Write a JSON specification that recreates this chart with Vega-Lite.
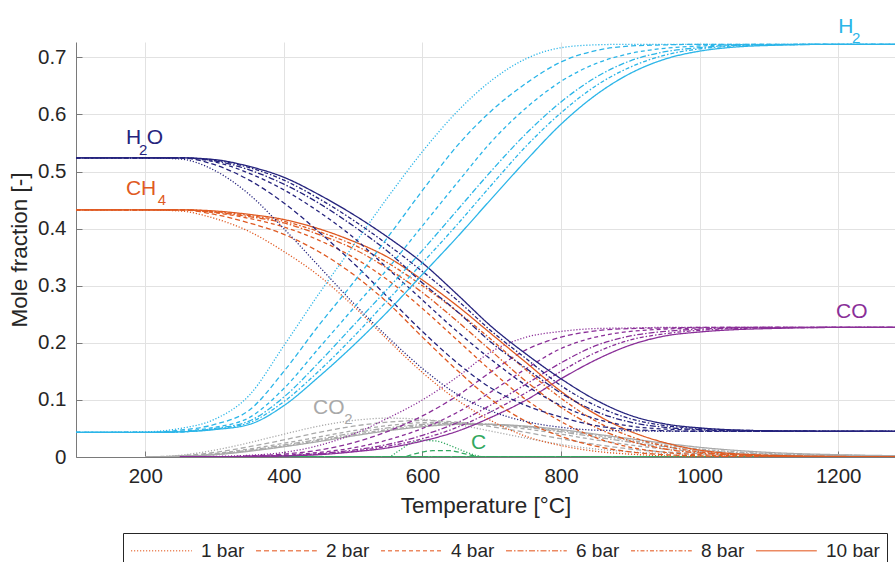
{
  "$schema": "https://vega.github.io/schema/vega-lite/v6.json",
  "width": 819,
  "height": 415,
  "autosize": {"type": "none"},
  "padding": {"left": 76, "top": 42, "right": 0, "bottom": 105},
  "background": "white",
  "config": {
    "view": {"stroke": null},
    "font": "Liberation Sans",
    "axis": {
      "grid": true,
      "gridColor": "#e2e2e2",
      "domainColor": "#7a7a7a",
      "tickColor": "#7a7a7a",
      "tickSize": -6,
      "labelFontSize": 20.5,
      "labelColor": "#262626",
      "labelFont": "Liberation Sans",
      "titleFont": "Liberation Sans",
      "titleFontSize": 22.5,
      "titleFontWeight": "normal",
      "titleColor": "#262626"
    }
  },
  "datasets": {
    "curves": [
      {"gas":"C","bar":1,"T":300,"frac":0},{"gas":"C","bar":1,"T":550,"frac":0},{"gas":"C","bar":1,"T":565,"frac":0.01},{"gas":"C","bar":1,"T":580,"frac":0.022},{"gas":"C","bar":1,"T":600,"frac":0.029},{"gas":"C","bar":1,"T":620,"frac":0.028},{"gas":"C","bar":1,"T":640,"frac":0.02},{"gas":"C","bar":1,"T":660,"frac":0.01},{"gas":"C","bar":1,"T":680,"frac":0.002},{"gas":"C","bar":1,"T":690,"frac":0},{"gas":"C","bar":1,"T":1300,"frac":0},
      {"gas":"C","bar":2,"T":300,"frac":0},{"gas":"C","bar":2,"T":570,"frac":0},{"gas":"C","bar":2,"T":590,"frac":0.006},{"gas":"C","bar":2,"T":615,"frac":0.011},{"gas":"C","bar":2,"T":640,"frac":0.011},{"gas":"C","bar":2,"T":660,"frac":0.006},{"gas":"C","bar":2,"T":680,"frac":0.001},{"gas":"C","bar":2,"T":690,"frac":0},{"gas":"C","bar":2,"T":1300,"frac":0},
      {"gas":"C","bar":4,"T":300,"frac":0},{"gas":"C","bar":4,"T":1300,"frac":0},
      {"gas":"C","bar":6,"T":300,"frac":0},{"gas":"C","bar":6,"T":1300,"frac":0},
      {"gas":"C","bar":8,"T":300,"frac":0},{"gas":"C","bar":8,"T":1300,"frac":0},
      {"gas":"C","bar":10,"T":300,"frac":0},{"gas":"C","bar":10,"T":1300,"frac":0},

      {"gas":"CO2","bar":1,"T":200,"frac":0},{"gas":"CO2","bar":1,"T":250,"frac":0.003},{"gas":"CO2","bar":1,"T":300,"frac":0.012},{"gas":"CO2","bar":1,"T":350,"frac":0.025},{"gas":"CO2","bar":1,"T":400,"frac":0.04},{"gas":"CO2","bar":1,"T":450,"frac":0.054},{"gas":"CO2","bar":1,"T":500,"frac":0.064},{"gas":"CO2","bar":1,"T":550,"frac":0.068},{"gas":"CO2","bar":1,"T":600,"frac":0.066},{"gas":"CO2","bar":1,"T":650,"frac":0.057},{"gas":"CO2","bar":1,"T":700,"frac":0.045},{"gas":"CO2","bar":1,"T":750,"frac":0.033},{"gas":"CO2","bar":1,"T":800,"frac":0.022},{"gas":"CO2","bar":1,"T":850,"frac":0.014},{"gas":"CO2","bar":1,"T":900,"frac":0.009},{"gas":"CO2","bar":1,"T":950,"frac":0.006},{"gas":"CO2","bar":1,"T":1000,"frac":0.004},{"gas":"CO2","bar":1,"T":1100,"frac":0.002},{"gas":"CO2","bar":1,"T":1200,"frac":0.001},{"gas":"CO2","bar":1,"T":1300,"frac":0.001},
      {"gas":"CO2","bar":2,"T":200,"frac":0},{"gas":"CO2","bar":2,"T":250,"frac":0.002},{"gas":"CO2","bar":2,"T":300,"frac":0.008},{"gas":"CO2","bar":2,"T":350,"frac":0.018},{"gas":"CO2","bar":2,"T":400,"frac":0.03},{"gas":"CO2","bar":2,"T":450,"frac":0.043},{"gas":"CO2","bar":2,"T":500,"frac":0.054},{"gas":"CO2","bar":2,"T":550,"frac":0.061},{"gas":"CO2","bar":2,"T":600,"frac":0.064},{"gas":"CO2","bar":2,"T":650,"frac":0.061},{"gas":"CO2","bar":2,"T":700,"frac":0.053},{"gas":"CO2","bar":2,"T":750,"frac":0.043},{"gas":"CO2","bar":2,"T":800,"frac":0.032},{"gas":"CO2","bar":2,"T":850,"frac":0.022},{"gas":"CO2","bar":2,"T":900,"frac":0.014},{"gas":"CO2","bar":2,"T":950,"frac":0.009},{"gas":"CO2","bar":2,"T":1000,"frac":0.006},{"gas":"CO2","bar":2,"T":1100,"frac":0.003},{"gas":"CO2","bar":2,"T":1200,"frac":0.002},{"gas":"CO2","bar":2,"T":1300,"frac":0.001},
      {"gas":"CO2","bar":4,"T":200,"frac":0},{"gas":"CO2","bar":4,"T":250,"frac":0.002},{"gas":"CO2","bar":4,"T":300,"frac":0.006},{"gas":"CO2","bar":4,"T":350,"frac":0.014},{"gas":"CO2","bar":4,"T":400,"frac":0.024},{"gas":"CO2","bar":4,"T":450,"frac":0.035},{"gas":"CO2","bar":4,"T":500,"frac":0.046},{"gas":"CO2","bar":4,"T":550,"frac":0.055},{"gas":"CO2","bar":4,"T":600,"frac":0.06},{"gas":"CO2","bar":4,"T":650,"frac":0.06},{"gas":"CO2","bar":4,"T":700,"frac":0.056},{"gas":"CO2","bar":4,"T":750,"frac":0.049},{"gas":"CO2","bar":4,"T":800,"frac":0.04},{"gas":"CO2","bar":4,"T":850,"frac":0.03},{"gas":"CO2","bar":4,"T":900,"frac":0.021},{"gas":"CO2","bar":4,"T":950,"frac":0.014},{"gas":"CO2","bar":4,"T":1000,"frac":0.009},{"gas":"CO2","bar":4,"T":1100,"frac":0.004},{"gas":"CO2","bar":4,"T":1200,"frac":0.002},{"gas":"CO2","bar":4,"T":1300,"frac":0.001},
      {"gas":"CO2","bar":6,"T":200,"frac":0},{"gas":"CO2","bar":6,"T":250,"frac":0.001},{"gas":"CO2","bar":6,"T":300,"frac":0.005},{"gas":"CO2","bar":6,"T":350,"frac":0.012},{"gas":"CO2","bar":6,"T":400,"frac":0.021},{"gas":"CO2","bar":6,"T":450,"frac":0.031},{"gas":"CO2","bar":6,"T":500,"frac":0.042},{"gas":"CO2","bar":6,"T":550,"frac":0.051},{"gas":"CO2","bar":6,"T":600,"frac":0.057},{"gas":"CO2","bar":6,"T":650,"frac":0.059},{"gas":"CO2","bar":6,"T":700,"frac":0.057},{"gas":"CO2","bar":6,"T":750,"frac":0.052},{"gas":"CO2","bar":6,"T":800,"frac":0.044},{"gas":"CO2","bar":6,"T":850,"frac":0.035},{"gas":"CO2","bar":6,"T":900,"frac":0.026},{"gas":"CO2","bar":6,"T":950,"frac":0.018},{"gas":"CO2","bar":6,"T":1000,"frac":0.012},{"gas":"CO2","bar":6,"T":1100,"frac":0.005},{"gas":"CO2","bar":6,"T":1200,"frac":0.003},{"gas":"CO2","bar":6,"T":1300,"frac":0.002},
      {"gas":"CO2","bar":8,"T":200,"frac":0},{"gas":"CO2","bar":8,"T":250,"frac":0.001},{"gas":"CO2","bar":8,"T":300,"frac":0.004},{"gas":"CO2","bar":8,"T":350,"frac":0.011},{"gas":"CO2","bar":8,"T":400,"frac":0.019},{"gas":"CO2","bar":8,"T":450,"frac":0.029},{"gas":"CO2","bar":8,"T":500,"frac":0.039},{"gas":"CO2","bar":8,"T":550,"frac":0.048},{"gas":"CO2","bar":8,"T":600,"frac":0.055},{"gas":"CO2","bar":8,"T":650,"frac":0.058},{"gas":"CO2","bar":8,"T":700,"frac":0.057},{"gas":"CO2","bar":8,"T":750,"frac":0.053},{"gas":"CO2","bar":8,"T":800,"frac":0.046},{"gas":"CO2","bar":8,"T":850,"frac":0.038},{"gas":"CO2","bar":8,"T":900,"frac":0.029},{"gas":"CO2","bar":8,"T":950,"frac":0.021},{"gas":"CO2","bar":8,"T":1000,"frac":0.014},{"gas":"CO2","bar":8,"T":1100,"frac":0.006},{"gas":"CO2","bar":8,"T":1200,"frac":0.003},{"gas":"CO2","bar":8,"T":1300,"frac":0.002},
      {"gas":"CO2","bar":10,"T":200,"frac":0},{"gas":"CO2","bar":10,"T":250,"frac":0.001},{"gas":"CO2","bar":10,"T":300,"frac":0.004},{"gas":"CO2","bar":10,"T":350,"frac":0.01},{"gas":"CO2","bar":10,"T":400,"frac":0.018},{"gas":"CO2","bar":10,"T":450,"frac":0.027},{"gas":"CO2","bar":10,"T":500,"frac":0.037},{"gas":"CO2","bar":10,"T":550,"frac":0.046},{"gas":"CO2","bar":10,"T":600,"frac":0.053},{"gas":"CO2","bar":10,"T":650,"frac":0.057},{"gas":"CO2","bar":10,"T":700,"frac":0.057},{"gas":"CO2","bar":10,"T":750,"frac":0.054},{"gas":"CO2","bar":10,"T":800,"frac":0.048},{"gas":"CO2","bar":10,"T":850,"frac":0.04},{"gas":"CO2","bar":10,"T":900,"frac":0.032},{"gas":"CO2","bar":10,"T":950,"frac":0.024},{"gas":"CO2","bar":10,"T":1000,"frac":0.017},{"gas":"CO2","bar":10,"T":1100,"frac":0.008},{"gas":"CO2","bar":10,"T":1200,"frac":0.004},{"gas":"CO2","bar":10,"T":1300,"frac":0.002},

      {"gas":"CO","bar":1,"T":250,"frac":0},{"gas":"CO","bar":1,"T":300,"frac":0.001},{"gas":"CO","bar":1,"T":350,"frac":0.003},{"gas":"CO","bar":1,"T":400,"frac":0.008},{"gas":"CO","bar":1,"T":450,"frac":0.02},{"gas":"CO","bar":1,"T":500,"frac":0.04},{"gas":"CO","bar":1,"T":550,"frac":0.068},{"gas":"CO","bar":1,"T":600,"frac":0.1},{"gas":"CO","bar":1,"T":650,"frac":0.14},{"gas":"CO","bar":1,"T":700,"frac":0.185},{"gas":"CO","bar":1,"T":750,"frac":0.21},{"gas":"CO","bar":1,"T":800,"frac":0.22},{"gas":"CO","bar":1,"T":850,"frac":0.225},{"gas":"CO","bar":1,"T":900,"frac":0.226},{"gas":"CO","bar":1,"T":950,"frac":0.227},{"gas":"CO","bar":1,"T":1300,"frac":0.227},
      {"gas":"CO","bar":2,"T":250,"frac":0},{"gas":"CO","bar":2,"T":300,"frac":0},{"gas":"CO","bar":2,"T":350,"frac":0.002},{"gas":"CO","bar":2,"T":400,"frac":0.005},{"gas":"CO","bar":2,"T":450,"frac":0.012},{"gas":"CO","bar":2,"T":500,"frac":0.025},{"gas":"CO","bar":2,"T":550,"frac":0.045},{"gas":"CO","bar":2,"T":600,"frac":0.072},{"gas":"CO","bar":2,"T":650,"frac":0.107},{"gas":"CO","bar":2,"T":700,"frac":0.15},{"gas":"CO","bar":2,"T":750,"frac":0.188},{"gas":"CO","bar":2,"T":800,"frac":0.21},{"gas":"CO","bar":2,"T":850,"frac":0.221},{"gas":"CO","bar":2,"T":900,"frac":0.225},{"gas":"CO","bar":2,"T":950,"frac":0.226},{"gas":"CO","bar":2,"T":1000,"frac":0.227},{"gas":"CO","bar":2,"T":1300,"frac":0.227},
      {"gas":"CO","bar":4,"T":250,"frac":0},{"gas":"CO","bar":4,"T":300,"frac":0},{"gas":"CO","bar":4,"T":350,"frac":0.001},{"gas":"CO","bar":4,"T":400,"frac":0.003},{"gas":"CO","bar":4,"T":450,"frac":0.008},{"gas":"CO","bar":4,"T":500,"frac":0.016},{"gas":"CO","bar":4,"T":550,"frac":0.03},{"gas":"CO","bar":4,"T":600,"frac":0.05},{"gas":"CO","bar":4,"T":650,"frac":0.078},{"gas":"CO","bar":4,"T":700,"frac":0.115},{"gas":"CO","bar":4,"T":750,"frac":0.155},{"gas":"CO","bar":4,"T":800,"frac":0.19},{"gas":"CO","bar":4,"T":850,"frac":0.21},{"gas":"CO","bar":4,"T":900,"frac":0.22},{"gas":"CO","bar":4,"T":950,"frac":0.224},{"gas":"CO","bar":4,"T":1000,"frac":0.226},{"gas":"CO","bar":4,"T":1050,"frac":0.227},{"gas":"CO","bar":4,"T":1300,"frac":0.227},
      {"gas":"CO","bar":6,"T":250,"frac":0},{"gas":"CO","bar":6,"T":300,"frac":0},{"gas":"CO","bar":6,"T":350,"frac":0.001},{"gas":"CO","bar":6,"T":400,"frac":0.002},{"gas":"CO","bar":6,"T":450,"frac":0.006},{"gas":"CO","bar":6,"T":500,"frac":0.012},{"gas":"CO","bar":6,"T":550,"frac":0.022},{"gas":"CO","bar":6,"T":600,"frac":0.038},{"gas":"CO","bar":6,"T":650,"frac":0.06},{"gas":"CO","bar":6,"T":700,"frac":0.092},{"gas":"CO","bar":6,"T":750,"frac":0.128},{"gas":"CO","bar":6,"T":800,"frac":0.165},{"gas":"CO","bar":6,"T":850,"frac":0.195},{"gas":"CO","bar":6,"T":900,"frac":0.212},{"gas":"CO","bar":6,"T":950,"frac":0.22},{"gas":"CO","bar":6,"T":1000,"frac":0.224},{"gas":"CO","bar":6,"T":1050,"frac":0.226},{"gas":"CO","bar":6,"T":1100,"frac":0.227},{"gas":"CO","bar":6,"T":1300,"frac":0.227},
      {"gas":"CO","bar":8,"T":250,"frac":0},{"gas":"CO","bar":8,"T":300,"frac":0},{"gas":"CO","bar":8,"T":350,"frac":0.001},{"gas":"CO","bar":8,"T":400,"frac":0.002},{"gas":"CO","bar":8,"T":450,"frac":0.005},{"gas":"CO","bar":8,"T":500,"frac":0.01},{"gas":"CO","bar":8,"T":550,"frac":0.019},{"gas":"CO","bar":8,"T":600,"frac":0.032},{"gas":"CO","bar":8,"T":650,"frac":0.052},{"gas":"CO","bar":8,"T":700,"frac":0.08},{"gas":"CO","bar":8,"T":750,"frac":0.113},{"gas":"CO","bar":8,"T":800,"frac":0.15},{"gas":"CO","bar":8,"T":850,"frac":0.183},{"gas":"CO","bar":8,"T":900,"frac":0.205},{"gas":"CO","bar":8,"T":950,"frac":0.216},{"gas":"CO","bar":8,"T":1000,"frac":0.222},{"gas":"CO","bar":8,"T":1050,"frac":0.225},{"gas":"CO","bar":8,"T":1100,"frac":0.226},{"gas":"CO","bar":8,"T":1200,"frac":0.227},{"gas":"CO","bar":8,"T":1300,"frac":0.227},
      {"gas":"CO","bar":10,"T":250,"frac":0},{"gas":"CO","bar":10,"T":300,"frac":0},{"gas":"CO","bar":10,"T":350,"frac":0.001},{"gas":"CO","bar":10,"T":400,"frac":0.002},{"gas":"CO","bar":10,"T":450,"frac":0.004},{"gas":"CO","bar":10,"T":500,"frac":0.009},{"gas":"CO","bar":10,"T":550,"frac":0.016},{"gas":"CO","bar":10,"T":600,"frac":0.028},{"gas":"CO","bar":10,"T":650,"frac":0.045},{"gas":"CO","bar":10,"T":700,"frac":0.07},{"gas":"CO","bar":10,"T":750,"frac":0.1},{"gas":"CO","bar":10,"T":800,"frac":0.137},{"gas":"CO","bar":10,"T":850,"frac":0.17},{"gas":"CO","bar":10,"T":900,"frac":0.196},{"gas":"CO","bar":10,"T":950,"frac":0.212},{"gas":"CO","bar":10,"T":1000,"frac":0.219},{"gas":"CO","bar":10,"T":1050,"frac":0.223},{"gas":"CO","bar":10,"T":1100,"frac":0.225},{"gas":"CO","bar":10,"T":1200,"frac":0.227},{"gas":"CO","bar":10,"T":1300,"frac":0.227},

      {"gas":"CH4","bar":1,"T":100,"frac":0.433},{"gas":"CH4","bar":1,"T":200,"frac":0.433},{"gas":"CH4","bar":1,"T":250,"frac":0.431},{"gas":"CH4","bar":1,"T":300,"frac":0.418},{"gas":"CH4","bar":1,"T":350,"frac":0.395},{"gas":"CH4","bar":1,"T":400,"frac":0.36},{"gas":"CH4","bar":1,"T":450,"frac":0.318},{"gas":"CH4","bar":1,"T":500,"frac":0.265},{"gas":"CH4","bar":1,"T":550,"frac":0.205},{"gas":"CH4","bar":1,"T":600,"frac":0.148},{"gas":"CH4","bar":1,"T":650,"frac":0.1},{"gas":"CH4","bar":1,"T":700,"frac":0.063},{"gas":"CH4","bar":1,"T":750,"frac":0.036},{"gas":"CH4","bar":1,"T":800,"frac":0.02},{"gas":"CH4","bar":1,"T":850,"frac":0.01},{"gas":"CH4","bar":1,"T":900,"frac":0.005},{"gas":"CH4","bar":1,"T":950,"frac":0.002},{"gas":"CH4","bar":1,"T":1000,"frac":0.001},{"gas":"CH4","bar":1,"T":1100,"frac":0},{"gas":"CH4","bar":1,"T":1300,"frac":0},
      {"gas":"CH4","bar":2,"T":100,"frac":0.433},{"gas":"CH4","bar":2,"T":250,"frac":0.433},{"gas":"CH4","bar":2,"T":300,"frac":0.425},{"gas":"CH4","bar":2,"T":350,"frac":0.41},{"gas":"CH4","bar":2,"T":400,"frac":0.39},{"gas":"CH4","bar":2,"T":450,"frac":0.36},{"gas":"CH4","bar":2,"T":500,"frac":0.32},{"gas":"CH4","bar":2,"T":550,"frac":0.27},{"gas":"CH4","bar":2,"T":600,"frac":0.21},{"gas":"CH4","bar":2,"T":650,"frac":0.152},{"gas":"CH4","bar":2,"T":700,"frac":0.1},{"gas":"CH4","bar":2,"T":750,"frac":0.062},{"gas":"CH4","bar":2,"T":800,"frac":0.036},{"gas":"CH4","bar":2,"T":850,"frac":0.019},{"gas":"CH4","bar":2,"T":900,"frac":0.009},{"gas":"CH4","bar":2,"T":950,"frac":0.004},{"gas":"CH4","bar":2,"T":1000,"frac":0.002},{"gas":"CH4","bar":2,"T":1100,"frac":0},{"gas":"CH4","bar":2,"T":1300,"frac":0},
      {"gas":"CH4","bar":4,"T":100,"frac":0.433},{"gas":"CH4","bar":4,"T":250,"frac":0.433},{"gas":"CH4","bar":4,"T":300,"frac":0.428},{"gas":"CH4","bar":4,"T":350,"frac":0.418},{"gas":"CH4","bar":4,"T":400,"frac":0.403},{"gas":"CH4","bar":4,"T":450,"frac":0.38},{"gas":"CH4","bar":4,"T":500,"frac":0.35},{"gas":"CH4","bar":4,"T":550,"frac":0.31},{"gas":"CH4","bar":4,"T":600,"frac":0.26},{"gas":"CH4","bar":4,"T":650,"frac":0.205},{"gas":"CH4","bar":4,"T":700,"frac":0.15},{"gas":"CH4","bar":4,"T":750,"frac":0.1},{"gas":"CH4","bar":4,"T":800,"frac":0.062},{"gas":"CH4","bar":4,"T":850,"frac":0.034},{"gas":"CH4","bar":4,"T":900,"frac":0.017},{"gas":"CH4","bar":4,"T":950,"frac":0.008},{"gas":"CH4","bar":4,"T":1000,"frac":0.004},{"gas":"CH4","bar":4,"T":1100,"frac":0.001},{"gas":"CH4","bar":4,"T":1200,"frac":0},{"gas":"CH4","bar":4,"T":1300,"frac":0},
      {"gas":"CH4","bar":6,"T":100,"frac":0.433},{"gas":"CH4","bar":6,"T":250,"frac":0.433},{"gas":"CH4","bar":6,"T":300,"frac":0.429},{"gas":"CH4","bar":6,"T":350,"frac":0.421},{"gas":"CH4","bar":6,"T":400,"frac":0.41},{"gas":"CH4","bar":6,"T":450,"frac":0.39},{"gas":"CH4","bar":6,"T":500,"frac":0.365},{"gas":"CH4","bar":6,"T":550,"frac":0.33},{"gas":"CH4","bar":6,"T":600,"frac":0.288},{"gas":"CH4","bar":6,"T":650,"frac":0.238},{"gas":"CH4","bar":6,"T":700,"frac":0.185},{"gas":"CH4","bar":6,"T":750,"frac":0.132},{"gas":"CH4","bar":6,"T":800,"frac":0.087},{"gas":"CH4","bar":6,"T":850,"frac":0.052},{"gas":"CH4","bar":6,"T":900,"frac":0.028},{"gas":"CH4","bar":6,"T":950,"frac":0.014},{"gas":"CH4","bar":6,"T":1000,"frac":0.007},{"gas":"CH4","bar":6,"T":1100,"frac":0.002},{"gas":"CH4","bar":6,"T":1200,"frac":0},{"gas":"CH4","bar":6,"T":1300,"frac":0},
      {"gas":"CH4","bar":8,"T":100,"frac":0.433},{"gas":"CH4","bar":8,"T":250,"frac":0.433},{"gas":"CH4","bar":8,"T":300,"frac":0.43},{"gas":"CH4","bar":8,"T":350,"frac":0.423},{"gas":"CH4","bar":8,"T":400,"frac":0.413},{"gas":"CH4","bar":8,"T":450,"frac":0.395},{"gas":"CH4","bar":8,"T":500,"frac":0.372},{"gas":"CH4","bar":8,"T":550,"frac":0.34},{"gas":"CH4","bar":8,"T":600,"frac":0.3},{"gas":"CH4","bar":8,"T":650,"frac":0.255},{"gas":"CH4","bar":8,"T":700,"frac":0.205},{"gas":"CH4","bar":8,"T":750,"frac":0.152},{"gas":"CH4","bar":8,"T":800,"frac":0.103},{"gas":"CH4","bar":8,"T":850,"frac":0.063},{"gas":"CH4","bar":8,"T":900,"frac":0.036},{"gas":"CH4","bar":8,"T":950,"frac":0.019},{"gas":"CH4","bar":8,"T":1000,"frac":0.009},{"gas":"CH4","bar":8,"T":1100,"frac":0.002},{"gas":"CH4","bar":8,"T":1200,"frac":0},{"gas":"CH4","bar":8,"T":1300,"frac":0},
      {"gas":"CH4","bar":10,"T":100,"frac":0.433},{"gas":"CH4","bar":10,"T":250,"frac":0.433},{"gas":"CH4","bar":10,"T":300,"frac":0.431},{"gas":"CH4","bar":10,"T":350,"frac":0.425},{"gas":"CH4","bar":10,"T":400,"frac":0.416},{"gas":"CH4","bar":10,"T":450,"frac":0.4},{"gas":"CH4","bar":10,"T":500,"frac":0.378},{"gas":"CH4","bar":10,"T":550,"frac":0.35},{"gas":"CH4","bar":10,"T":600,"frac":0.31},{"gas":"CH4","bar":10,"T":650,"frac":0.265},{"gas":"CH4","bar":10,"T":700,"frac":0.215},{"gas":"CH4","bar":10,"T":750,"frac":0.165},{"gas":"CH4","bar":10,"T":800,"frac":0.115},{"gas":"CH4","bar":10,"T":850,"frac":0.075},{"gas":"CH4","bar":10,"T":900,"frac":0.045},{"gas":"CH4","bar":10,"T":950,"frac":0.025},{"gas":"CH4","bar":10,"T":1000,"frac":0.012},{"gas":"CH4","bar":10,"T":1100,"frac":0.003},{"gas":"CH4","bar":10,"T":1200,"frac":0.001},{"gas":"CH4","bar":10,"T":1300,"frac":0},

      {"gas":"H2O","bar":1,"T":100,"frac":0.524},{"gas":"H2O","bar":1,"T":200,"frac":0.524},{"gas":"H2O","bar":1,"T":250,"frac":0.522},{"gas":"H2O","bar":1,"T":300,"frac":0.502},{"gas":"H2O","bar":1,"T":350,"frac":0.46},{"gas":"H2O","bar":1,"T":400,"frac":0.4},{"gas":"H2O","bar":1,"T":450,"frac":0.335},{"gas":"H2O","bar":1,"T":500,"frac":0.27},{"gas":"H2O","bar":1,"T":550,"frac":0.21},{"gas":"H2O","bar":1,"T":600,"frac":0.155},{"gas":"H2O","bar":1,"T":650,"frac":0.11},{"gas":"H2O","bar":1,"T":700,"frac":0.08},{"gas":"H2O","bar":1,"T":750,"frac":0.062},{"gas":"H2O","bar":1,"T":800,"frac":0.052},{"gas":"H2O","bar":1,"T":850,"frac":0.047},{"gas":"H2O","bar":1,"T":900,"frac":0.046},{"gas":"H2O","bar":1,"T":950,"frac":0.045},{"gas":"H2O","bar":1,"T":1300,"frac":0.045},
      {"gas":"H2O","bar":2,"T":100,"frac":0.524},{"gas":"H2O","bar":2,"T":250,"frac":0.524},{"gas":"H2O","bar":2,"T":300,"frac":0.512},{"gas":"H2O","bar":2,"T":350,"frac":0.485},{"gas":"H2O","bar":2,"T":400,"frac":0.445},{"gas":"H2O","bar":2,"T":450,"frac":0.395},{"gas":"H2O","bar":2,"T":500,"frac":0.34},{"gas":"H2O","bar":2,"T":550,"frac":0.28},{"gas":"H2O","bar":2,"T":600,"frac":0.22},{"gas":"H2O","bar":2,"T":650,"frac":0.165},{"gas":"H2O","bar":2,"T":700,"frac":0.12},{"gas":"H2O","bar":2,"T":750,"frac":0.09},{"gas":"H2O","bar":2,"T":800,"frac":0.07},{"gas":"H2O","bar":2,"T":850,"frac":0.055},{"gas":"H2O","bar":2,"T":900,"frac":0.048},{"gas":"H2O","bar":2,"T":950,"frac":0.046},{"gas":"H2O","bar":2,"T":1000,"frac":0.045},{"gas":"H2O","bar":2,"T":1300,"frac":0.045},
      {"gas":"H2O","bar":4,"T":100,"frac":0.524},{"gas":"H2O","bar":4,"T":250,"frac":0.524},{"gas":"H2O","bar":4,"T":300,"frac":0.517},{"gas":"H2O","bar":4,"T":350,"frac":0.497},{"gas":"H2O","bar":4,"T":400,"frac":0.468},{"gas":"H2O","bar":4,"T":450,"frac":0.43},{"gas":"H2O","bar":4,"T":500,"frac":0.385},{"gas":"H2O","bar":4,"T":550,"frac":0.33},{"gas":"H2O","bar":4,"T":600,"frac":0.275},{"gas":"H2O","bar":4,"T":650,"frac":0.22},{"gas":"H2O","bar":4,"T":700,"frac":0.17},{"gas":"H2O","bar":4,"T":750,"frac":0.125},{"gas":"H2O","bar":4,"T":800,"frac":0.09},{"gas":"H2O","bar":4,"T":850,"frac":0.067},{"gas":"H2O","bar":4,"T":900,"frac":0.054},{"gas":"H2O","bar":4,"T":950,"frac":0.049},{"gas":"H2O","bar":4,"T":1000,"frac":0.047},{"gas":"H2O","bar":4,"T":1100,"frac":0.045},{"gas":"H2O","bar":4,"T":1300,"frac":0.045},
      {"gas":"H2O","bar":6,"T":100,"frac":0.524},{"gas":"H2O","bar":6,"T":250,"frac":0.524},{"gas":"H2O","bar":6,"T":300,"frac":0.519},{"gas":"H2O","bar":6,"T":350,"frac":0.503},{"gas":"H2O","bar":6,"T":400,"frac":0.478},{"gas":"H2O","bar":6,"T":450,"frac":0.445},{"gas":"H2O","bar":6,"T":500,"frac":0.405},{"gas":"H2O","bar":6,"T":550,"frac":0.36},{"gas":"H2O","bar":6,"T":600,"frac":0.305},{"gas":"H2O","bar":6,"T":650,"frac":0.255},{"gas":"H2O","bar":6,"T":700,"frac":0.2},{"gas":"H2O","bar":6,"T":750,"frac":0.155},{"gas":"H2O","bar":6,"T":800,"frac":0.112},{"gas":"H2O","bar":6,"T":850,"frac":0.08},{"gas":"H2O","bar":6,"T":900,"frac":0.061},{"gas":"H2O","bar":6,"T":950,"frac":0.052},{"gas":"H2O","bar":6,"T":1000,"frac":0.048},{"gas":"H2O","bar":6,"T":1100,"frac":0.045},{"gas":"H2O","bar":6,"T":1300,"frac":0.045},
      {"gas":"H2O","bar":8,"T":100,"frac":0.524},{"gas":"H2O","bar":8,"T":250,"frac":0.524},{"gas":"H2O","bar":8,"T":300,"frac":0.52},{"gas":"H2O","bar":8,"T":350,"frac":0.507},{"gas":"H2O","bar":8,"T":400,"frac":0.485},{"gas":"H2O","bar":8,"T":450,"frac":0.453},{"gas":"H2O","bar":8,"T":500,"frac":0.415},{"gas":"H2O","bar":8,"T":550,"frac":0.372},{"gas":"H2O","bar":8,"T":600,"frac":0.325},{"gas":"H2O","bar":8,"T":650,"frac":0.275},{"gas":"H2O","bar":8,"T":700,"frac":0.22},{"gas":"H2O","bar":8,"T":750,"frac":0.172},{"gas":"H2O","bar":8,"T":800,"frac":0.125},{"gas":"H2O","bar":8,"T":850,"frac":0.09},{"gas":"H2O","bar":8,"T":900,"frac":0.067},{"gas":"H2O","bar":8,"T":950,"frac":0.055},{"gas":"H2O","bar":8,"T":1000,"frac":0.05},{"gas":"H2O","bar":8,"T":1100,"frac":0.046},{"gas":"H2O","bar":8,"T":1300,"frac":0.045},
      {"gas":"H2O","bar":10,"T":100,"frac":0.524},{"gas":"H2O","bar":10,"T":250,"frac":0.524},{"gas":"H2O","bar":10,"T":300,"frac":0.521},{"gas":"H2O","bar":10,"T":350,"frac":0.509},{"gas":"H2O","bar":10,"T":400,"frac":0.49},{"gas":"H2O","bar":10,"T":450,"frac":0.46},{"gas":"H2O","bar":10,"T":500,"frac":0.425},{"gas":"H2O","bar":10,"T":550,"frac":0.385},{"gas":"H2O","bar":10,"T":600,"frac":0.34},{"gas":"H2O","bar":10,"T":650,"frac":0.285},{"gas":"H2O","bar":10,"T":700,"frac":0.228},{"gas":"H2O","bar":10,"T":750,"frac":0.18},{"gas":"H2O","bar":10,"T":800,"frac":0.137},{"gas":"H2O","bar":10,"T":850,"frac":0.1},{"gas":"H2O","bar":10,"T":900,"frac":0.073},{"gas":"H2O","bar":10,"T":950,"frac":0.058},{"gas":"H2O","bar":10,"T":1000,"frac":0.051},{"gas":"H2O","bar":10,"T":1100,"frac":0.046},{"gas":"H2O","bar":10,"T":1300,"frac":0.045},

      {"gas":"H2","bar":1,"T":100,"frac":0.043},{"gas":"H2","bar":1,"T":200,"frac":0.044},{"gas":"H2","bar":1,"T":250,"frac":0.05},{"gas":"H2","bar":1,"T":300,"frac":0.066},{"gas":"H2","bar":1,"T":350,"frac":0.108},{"gas":"H2","bar":1,"T":400,"frac":0.195},{"gas":"H2","bar":1,"T":450,"frac":0.285},{"gas":"H2","bar":1,"T":500,"frac":0.37},{"gas":"H2","bar":1,"T":550,"frac":0.455},{"gas":"H2","bar":1,"T":600,"frac":0.535},{"gas":"H2","bar":1,"T":650,"frac":0.605},{"gas":"H2","bar":1,"T":700,"frac":0.66},{"gas":"H2","bar":1,"T":750,"frac":0.698},{"gas":"H2","bar":1,"T":800,"frac":0.717},{"gas":"H2","bar":1,"T":850,"frac":0.722},{"gas":"H2","bar":1,"T":900,"frac":0.723},{"gas":"H2","bar":1,"T":1300,"frac":0.723},
      {"gas":"H2","bar":2,"T":100,"frac":0.043},{"gas":"H2","bar":2,"T":200,"frac":0.043},{"gas":"H2","bar":2,"T":250,"frac":0.047},{"gas":"H2","bar":2,"T":300,"frac":0.057},{"gas":"H2","bar":2,"T":350,"frac":0.082},{"gas":"H2","bar":2,"T":400,"frac":0.15},{"gas":"H2","bar":2,"T":450,"frac":0.23},{"gas":"H2","bar":2,"T":500,"frac":0.305},{"gas":"H2","bar":2,"T":550,"frac":0.385},{"gas":"H2","bar":2,"T":600,"frac":0.467},{"gas":"H2","bar":2,"T":650,"frac":0.545},{"gas":"H2","bar":2,"T":700,"frac":0.607},{"gas":"H2","bar":2,"T":750,"frac":0.655},{"gas":"H2","bar":2,"T":800,"frac":0.692},{"gas":"H2","bar":2,"T":850,"frac":0.712},{"gas":"H2","bar":2,"T":900,"frac":0.72},{"gas":"H2","bar":2,"T":950,"frac":0.722},{"gas":"H2","bar":2,"T":1000,"frac":0.723},{"gas":"H2","bar":2,"T":1300,"frac":0.723},
      {"gas":"H2","bar":4,"T":100,"frac":0.043},{"gas":"H2","bar":4,"T":200,"frac":0.043},{"gas":"H2","bar":4,"T":250,"frac":0.045},{"gas":"H2","bar":4,"T":300,"frac":0.052},{"gas":"H2","bar":4,"T":350,"frac":0.069},{"gas":"H2","bar":4,"T":400,"frac":0.12},{"gas":"H2","bar":4,"T":450,"frac":0.19},{"gas":"H2","bar":4,"T":500,"frac":0.26},{"gas":"H2","bar":4,"T":550,"frac":0.33},{"gas":"H2","bar":4,"T":600,"frac":0.405},{"gas":"H2","bar":4,"T":650,"frac":0.48},{"gas":"H2","bar":4,"T":700,"frac":0.553},{"gas":"H2","bar":4,"T":750,"frac":0.612},{"gas":"H2","bar":4,"T":800,"frac":0.658},{"gas":"H2","bar":4,"T":850,"frac":0.689},{"gas":"H2","bar":4,"T":900,"frac":0.707},{"gas":"H2","bar":4,"T":950,"frac":0.716},{"gas":"H2","bar":4,"T":1000,"frac":0.72},{"gas":"H2","bar":4,"T":1050,"frac":0.722},{"gas":"H2","bar":4,"T":1100,"frac":0.723},{"gas":"H2","bar":4,"T":1300,"frac":0.723},
      {"gas":"H2","bar":6,"T":100,"frac":0.043},{"gas":"H2","bar":6,"T":200,"frac":0.043},{"gas":"H2","bar":6,"T":250,"frac":0.044},{"gas":"H2","bar":6,"T":300,"frac":0.05},{"gas":"H2","bar":6,"T":350,"frac":0.063},{"gas":"H2","bar":6,"T":400,"frac":0.105},{"gas":"H2","bar":6,"T":450,"frac":0.165},{"gas":"H2","bar":6,"T":500,"frac":0.23},{"gas":"H2","bar":6,"T":550,"frac":0.295},{"gas":"H2","bar":6,"T":600,"frac":0.362},{"gas":"H2","bar":6,"T":650,"frac":0.432},{"gas":"H2","bar":6,"T":700,"frac":0.502},{"gas":"H2","bar":6,"T":750,"frac":0.567},{"gas":"H2","bar":6,"T":800,"frac":0.622},{"gas":"H2","bar":6,"T":850,"frac":0.665},{"gas":"H2","bar":6,"T":900,"frac":0.694},{"gas":"H2","bar":6,"T":950,"frac":0.71},{"gas":"H2","bar":6,"T":1000,"frac":0.717},{"gas":"H2","bar":6,"T":1050,"frac":0.721},{"gas":"H2","bar":6,"T":1100,"frac":0.722},{"gas":"H2","bar":6,"T":1200,"frac":0.723},{"gas":"H2","bar":6,"T":1300,"frac":0.723},
      {"gas":"H2","bar":8,"T":100,"frac":0.043},{"gas":"H2","bar":8,"T":200,"frac":0.043},{"gas":"H2","bar":8,"T":250,"frac":0.044},{"gas":"H2","bar":8,"T":300,"frac":0.049},{"gas":"H2","bar":8,"T":350,"frac":0.06},{"gas":"H2","bar":8,"T":400,"frac":0.097},{"gas":"H2","bar":8,"T":450,"frac":0.15},{"gas":"H2","bar":8,"T":500,"frac":0.21},{"gas":"H2","bar":8,"T":550,"frac":0.275},{"gas":"H2","bar":8,"T":600,"frac":0.34},{"gas":"H2","bar":8,"T":650,"frac":0.407},{"gas":"H2","bar":8,"T":700,"frac":0.477},{"gas":"H2","bar":8,"T":750,"frac":0.545},{"gas":"H2","bar":8,"T":800,"frac":0.603},{"gas":"H2","bar":8,"T":850,"frac":0.65},{"gas":"H2","bar":8,"T":900,"frac":0.683},{"gas":"H2","bar":8,"T":950,"frac":0.704},{"gas":"H2","bar":8,"T":1000,"frac":0.715},{"gas":"H2","bar":8,"T":1050,"frac":0.72},{"gas":"H2","bar":8,"T":1100,"frac":0.722},{"gas":"H2","bar":8,"T":1200,"frac":0.723},{"gas":"H2","bar":8,"T":1300,"frac":0.723},
      {"gas":"H2","bar":10,"T":100,"frac":0.043},{"gas":"H2","bar":10,"T":200,"frac":0.043},{"gas":"H2","bar":10,"T":250,"frac":0.044},{"gas":"H2","bar":10,"T":300,"frac":0.048},{"gas":"H2","bar":10,"T":350,"frac":0.057},{"gas":"H2","bar":10,"T":400,"frac":0.09},{"gas":"H2","bar":10,"T":450,"frac":0.14},{"gas":"H2","bar":10,"T":500,"frac":0.195},{"gas":"H2","bar":10,"T":550,"frac":0.255},{"gas":"H2","bar":10,"T":600,"frac":0.32},{"gas":"H2","bar":10,"T":650,"frac":0.385},{"gas":"H2","bar":10,"T":700,"frac":0.453},{"gas":"H2","bar":10,"T":750,"frac":0.52},{"gas":"H2","bar":10,"T":800,"frac":0.583},{"gas":"H2","bar":10,"T":850,"frac":0.634},{"gas":"H2","bar":10,"T":900,"frac":0.672},{"gas":"H2","bar":10,"T":950,"frac":0.697},{"gas":"H2","bar":10,"T":1000,"frac":0.711},{"gas":"H2","bar":10,"T":1050,"frac":0.718},{"gas":"H2","bar":10,"T":1100,"frac":0.721},{"gas":"H2","bar":10,"T":1200,"frac":0.723},{"gas":"H2","bar":10,"T":1300,"frac":0.723}
    ],
    "names": [
      {"gas":"H2","txt":"H","T":1200,"frac":0.753},
      {"gas":"H2O","txt":"H","T":172,"frac":0.559},
      {"gas":"H2O","txt":"O","T":202,"frac":0.559},
      {"gas":"CH4","txt":"CH","T":172,"frac":0.4695},
      {"gas":"CO","txt":"CO","T":1197,"frac":0.254},
      {"gas":"CO2","txt":"CO","T":442,"frac":0.0858},
      {"gas":"C","txt":"C","T":670,"frac":0.0245}
    ],
    "subscripts": [
      {"gas":"H2","txt":"2","T":1220,"frac":0.734},
      {"gas":"H2O","txt":"2","T":191,"frac":0.538},
      {"gas":"CH4","txt":"4","T":218,"frac":0.45},
      {"gas":"CO2","txt":"2","T":487,"frac":0.0666}
    ]
  },
  "layer": [
    {
      "data": {"name": "curves"},
      "mark": {"type": "line", "interpolate": "monotone", "strokeWidth": 1.3, "clip": true},
      "encoding": {
        "x": {
          "field": "T", "type": "quantitative",
          "scale": {"domain": [100, 1282], "nice": false, "zero": false},
          "axis": {"values": [200, 400, 600, 800, 1000, 1200], "format": "d", "title": "Temperature [°C]", "labelPadding": 15, "titlePadding": 8}
        },
        "y": {
          "field": "frac", "type": "quantitative",
          "scale": {"domain": [0, 0.727], "nice": false},
          "axis": {"values": [0, 0.1, 0.2, 0.3, 0.4, 0.5, 0.6, 0.7], "format": "~g", "title": "Mole fraction [-]", "labelPadding": 16, "titlePadding": 6}
        },
        "color": {
          "field": "gas", "type": "nominal",
          "scale": {"domain": ["H2", "H2O", "CH4", "CO", "CO2", "C"], "range": ["#2bb5e8", "#25237d", "#df5a22", "#8a2f98", "#a9a9a9", "#32a860"]},
          "legend": null
        },
        "strokeDash": {
          "field": "bar", "type": "ordinal",
          "scale": {"domain": [1, 2, 4, 6, 8, 10], "range": [[1.2, 1.8], [5, 3], [4, 3], [6, 2, 1.5, 2], [4, 2, 1.5, 2], [1, 0]]},
          "legend": {
            "orient": "none", "legendX": 47, "legendY": 491,
            "direction": "horizontal", "columns": 6, "title": null,
            "strokeColor": "#262626", "padding": 7,
            "symbolType": "M-1,0H5.4", "symbolSize": 361, "symbolStrokeWidth": 1.4,
            "symbolStrokeColor": "#ec8a62", "symbolFillColor": "transparent",
            "labelExpr": "datum.label + ' bar'", "labelFontSize": 19, "labelColor": "#262626",
            "labelFont": "Liberation Sans", "labelOffset": 50, "columnPadding": 8
          }
        }
      }
    },
    {
      "data": {"name": "names"},
      "mark": {"type": "text", "align": "left", "baseline": "middle", "fontSize": 21},
      "encoding": {
        "x": {"field": "T", "type": "quantitative"},
        "y": {"field": "frac", "type": "quantitative"},
        "text": {"field": "txt"},
        "color": {"field": "gas", "type": "nominal"}
      }
    },
    {
      "data": {"name": "subscripts"},
      "mark": {"type": "text", "align": "left", "baseline": "middle", "fontSize": 15},
      "encoding": {
        "x": {"field": "T", "type": "quantitative"},
        "y": {"field": "frac", "type": "quantitative"},
        "text": {"field": "txt"},
        "color": {"field": "gas", "type": "nominal"}
      }
    }
  ]
}
